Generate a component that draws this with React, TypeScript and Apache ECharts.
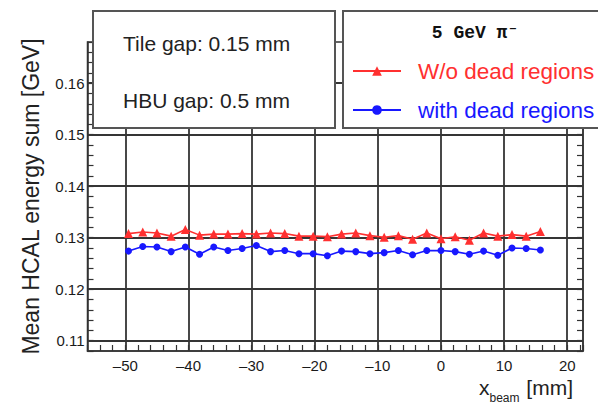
import React, { useEffect, useRef } from "react";
import * as echarts from "echarts";

// x position of the beam [mm]
const xBeam = [
  -49.5, -47.25, -45, -42.75, -40.5, -38.25, -36, -33.75, -31.5, -29.25,
  -27, -24.75, -22.5, -20.25, -18, -15.75, -13.5, -11.25, -9, -6.75,
  -4.5, -2.25, 0, 2.25, 4.5, 6.75, 9, 11.25, 13.5, 15.75,
];
// Mean HCAL energy sum [GeV], without dead regions
const woDead = [
  0.1308, 0.1311, 0.1309, 0.1303, 0.1316, 0.1305, 0.1307, 0.1307, 0.1308, 0.1307,
  0.1309, 0.1308, 0.1303, 0.1303, 0.1302, 0.1307, 0.1309, 0.1304, 0.1301, 0.1304,
  0.1297, 0.1309, 0.1298, 0.1302, 0.1295, 0.1309, 0.1303, 0.1306, 0.1303, 0.1312,
];
// Mean HCAL energy sum [GeV], with dead regions
const withDead = [
  0.1274, 0.1283, 0.1282, 0.1273, 0.1282, 0.1268, 0.1282, 0.1275, 0.1279, 0.1285,
  0.1273, 0.1275, 0.1269, 0.1269, 0.1265, 0.1274, 0.1273, 0.1269, 0.1271, 0.1275,
  0.1267, 0.1275, 0.1275, 0.1273, 0.1268, 0.1274, 0.1266, 0.128, 0.1279, 0.1276,
];
const xMajor = [-50, -40, -30, -20, -10, 0, 10, 20];
const yMajor = [0.11, 0.12, 0.13, 0.14, 0.15, 0.16];
const seriesNames = ["W/o dead regions", "with dead regions"];
const infoLines = ["Tile gap: 0.15 mm", "HBU gap: 0.5 mm"];
const legendTitle = "5 GeV π⁻";

const RED = "#ff3030";
const BLUE = "#1818ff";
const FONT = "'Liberation Sans', Arial, sans-serif";
const GRID = "#353535";

function isMultiple(v: number, step: number) {
  const r = v / step;
  return Math.abs(r - Math.round(r)) < 1e-6;
}

export default function App() {
  const ref = useRef<HTMLDivElement>(null);
  useEffect(() => {
    document.body.style.margin = "0";
    const chart = echarts.init(ref.current!, null, { renderer: "svg" });
    const axisCommon = {
      axisLine: { show: true, onZero: false, lineStyle: { color: "#333", width: 1.5 } },
      axisTick: { show: true, inside: true, length: 6, lineStyle: { color: "#333", width: 1.2 } },
      splitLine: { show: false },
    };
    chart.setOption({
      animation: false,
      backgroundColor: "#fff",
      grid: {
        left: 87.5,
        right: 15,
        top: 42,
        bottom: 53,
        show: true,
        borderColor: "#333",
        borderWidth: 1.5,
        backgroundColor: "#fff",
      },
      xAxis: {
        type: "value",
        min: -56,
        max: 22.5,
        interval: 2,
        ...axisCommon,
        axisLabel: {
          margin: 7,
          fontSize: 15,
          color: "#1a1a1a",
          fontFamily: FONT,
          formatter: (v: number) =>
            isMultiple(v, 10) && v >= -50 && v <= 20
              ? (v < 0 ? "–" + Math.abs(v) : String(v))
              : "",
        },
      },
      yAxis: [
        {
          type: "value",
          min: 0.108,
          max: 0.168,
          interval: 0.002,
          ...axisCommon,
          name: "Mean HCAL energy sum [GeV]",
          nameLocation: "middle",
          nameRotate: 90,
          nameGap: 45,
          nameTextStyle: { fontSize: 23, color: "#222", fontFamily: FONT },
          axisLabel: {
            margin: 3,
            fontSize: 15,
            color: "#1a1a1a",
            fontFamily: FONT,
            formatter: (v: number) =>
              isMultiple(v, 0.01) ? v.toFixed(2) : "",
          },
        },
        {
          type: "value",
          position: "right",
          min: 0.108,
          max: 0.168,
          interval: 0.002,
          ...axisCommon,
          axisLabel: { show: false },
        },
      ],
      legend: {
        z: 20,
        orient: "vertical",
        left: 347,
        top: 54,
        itemWidth: 48,
        itemHeight: 12,
        itemGap: 15,
        selectedMode: false,
        data: [
          { name: seriesNames[0], textStyle: { color: RED } },
          { name: seriesNames[1], textStyle: { color: BLUE } },
        ],
        textStyle: { fontSize: 22.5, fontFamily: FONT, lineHeight: 24, padding: [0, 0, 0, 12] },
      },
      series: [
        {
          name: seriesNames[0],
          type: "line",
          data: xBeam.map((x, i) => [x, woDead[i]]),
          symbol: "triangle",
          symbolSize: 9,
          lineStyle: { color: RED, width: 1.6 },
          itemStyle: { color: RED },
          z: 3,
          markLine: {
            z: 1,
            silent: true,
            symbol: ["none", "none"],
            label: { show: false },
            lineStyle: { type: "solid", color: GRID, width: 1.8 },
            data: [
              ...xMajor.map((v) => ({ xAxis: v })),
              ...yMajor.map((v) => ({ yAxis: v })),
            ],
          },
        },
        {
          name: seriesNames[1],
          type: "line",
          data: xBeam.map((x, i) => [x, withDead[i]]),
          symbol: "circle",
          symbolSize: 7,
          lineStyle: { color: BLUE, width: 1.6 },
          itemStyle: { color: BLUE },
          z: 3,
        },
      ],
      graphic: [
        {
          type: "rect",
          z: 10,
          shape: { x: 93, y: 11, width: 242, height: 117 },
          style: { fill: "#fff", stroke: "#555", lineWidth: 2 },
        },
        {
          type: "rect",
          z: 10,
          shape: { x: 343, y: 11, width: 262, height: 117 },
          style: { fill: "#fff", stroke: "#555", lineWidth: 2 },
        },
        {
          type: "text",
          z: 11,
          x: 123,
          y: 43,
          style: {
            text: infoLines[0],
            fontSize: 21,
            fontFamily: FONT,
            fill: "#222",
            verticalAlign: "middle",
          },
        },
        {
          type: "text",
          z: 11,
          x: 123,
          y: 100,
          style: {
            text: infoLines[1],
            fontSize: 21,
            fontFamily: FONT,
            fill: "#222",
            verticalAlign: "middle",
          },
        },
        {
          type: "text",
          z: 11,
          x: 475,
          y: 33,
          style: {
            text: legendTitle,
            fontSize: 18,
            fontWeight: "bold",
            fontFamily: "'Liberation Mono', 'DejaVu Sans Mono', monospace",
            fill: "#111",
            align: "center",
            verticalAlign: "middle",
          },
        },
        {
          type: "text",
          z: 11,
          x: 573,
          y: 386,
          style: {
            text: "{a|x}{b|beam}{a| [mm]}",
            align: "right",
            verticalAlign: "middle",
            fill: "#222",
            rich: {
              a: { fontSize: 21, fontFamily: FONT, fill: "#222", verticalAlign: "bottom", lineHeight: 24 },
              b: { fontSize: 12, fontFamily: FONT, fill: "#222", verticalAlign: "bottom", lineHeight: 13, padding: [0, 1, -6, 0] },
            },
          },
        },
      ],
    });
    return () => chart.dispose();
  }, []);
  return <div ref={ref} style={{ width: 598, height: 404 }} />;
}
